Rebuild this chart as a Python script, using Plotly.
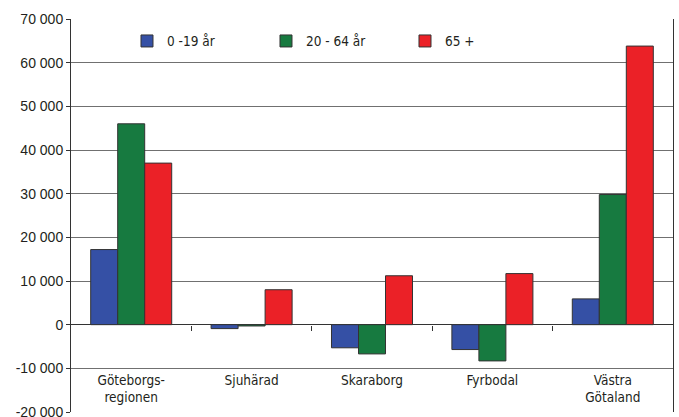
import plotly.graph_objects as go

categories = ["Göteborgs-<br>regionen", "Sjuhärad", "Skaraborg", "Fyrbodal", "Västra<br>Götaland"]
series_names = ["0 -19 år", "20 - 64 år", "65 +"]
age_0_19 = [17200, -900, -5300, -5700, 5900]
age_20_64 = [46000, -300, -6700, -8300, 29800]
age_65 = [37000, 8000, 11200, 11700, 63800]
colors = ["#3550A5", "#177A40", "#EB2127"]
y_ticks = [-20000, -10000, 0, 10000, 20000, 30000, 40000, 50000, 60000, 70000]
y_ticktext = [f"{v:,}".replace(",", " ") for v in y_ticks]
y_min, y_max = -20000, 70000
label_level = -10000  # category labels hang below this gridline

narrow = "Liberation Sans Narrow, DejaVu Sans Condensed, Arial Narrow, sans-serif"

fig = go.Figure()
for name, vals, col in zip(series_names, [age_0_19, age_20_64, age_65], colors):
    fig.add_trace(go.Bar(x=categories, y=vals, name=name,
                         marker=dict(color=col, line=dict(color="#333333", width=1))))

# helper traces for the extra category axes
fig.add_trace(go.Scatter(x=[], y=[], xaxis="x2", yaxis="y", showlegend=False, hoverinfo="skip"))
fig.add_trace(go.Scatter(x=[], y=[], xaxis="x3", yaxis="y", showlegend=False, hoverinfo="skip"))

zero_pos = (0 - y_min) / (y_max - y_min)
label_pos = (label_level - y_min) / (y_max - y_min)
n = len(categories)

fig.update_layout(
    width=679, height=417,
    margin=dict(l=71, r=6, t=19, b=5, autoexpand=False),
    paper_bgcolor="white", plot_bgcolor="white",
    barmode="group", bargap=0.327, bargroupgap=0,
    font=dict(family="Liberation Sans, Arial, sans-serif", size=14, color="#231F20"),
    legend=dict(orientation="h", x=0.093, y=0.983, xanchor="left", yanchor="top",
                font=dict(family=narrow, size=13.5, color="#231F20"),
                entrywidth=94, entrywidthmode="pixels", bgcolor="rgba(0,0,0,0)",
                traceorder="normal"),
    xaxis=dict(showgrid=False, showline=False, ticks="", showticklabels=False,
               range=[-0.5, n - 0.5], automargin=False),
    xaxis2=dict(anchor="free", position=zero_pos, overlaying="x", side="bottom",
                range=[-0.5, n - 0.5], showgrid=False, zeroline=False, showline=False,
                ticks="outside", ticklen=5, tickcolor="#333333",
                tickvals=[i + 0.5 for i in range(n)], showticklabels=False, automargin=False),
    xaxis3=dict(anchor="free", position=label_pos, overlaying="x", side="bottom",
                range=[-0.5, n - 0.5], showgrid=False, zeroline=False, showline=False,
                ticks="", tickvals=list(range(n)), ticktext=categories,
                tickfont=dict(family=narrow, size=13.5, color="#231F20"),
                ticklabelstandoff=2, automargin=False),
    yaxis=dict(range=[y_min, y_max], tickvals=y_ticks, ticktext=y_ticktext,
               showgrid=True, gridcolor="#707070", gridwidth=1,
               zeroline=True, zerolinecolor="#333333", zerolinewidth=1,
               showline=True, mirror=True, linecolor="#333333", linewidth=1,
               ticks="outside", ticklen=4, tickcolor="#333333", ticklabeloverflow="allow",
               tickfont=dict(size=14, color="#231F20"), automargin=False),
)

fig.write_html("out.html", config={"displayModeBar": False},
               post_script="document.body.style.margin='0';")
